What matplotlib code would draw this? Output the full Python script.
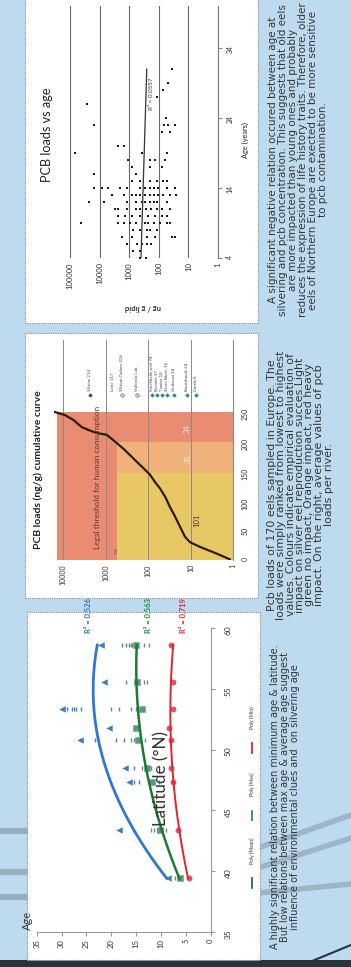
import numpy as np
import matplotlib
matplotlib.use('Agg')
import matplotlib.pyplot as plt
from matplotlib.patches import Rectangle
from matplotlib.lines import Line2D
from matplotlib.ticker import NullLocator
from matplotlib.font_manager import FontProperties

# ---------------- DATA ----------------
# Panel 1: PCB loads vs age (age in years, load in ng/g lipid)
pcb_age = ([4]*2 + [5]*2 + [6]*5 + [7]*6 + [8]*5 + [9]*11 + [10]*8 + [11]*10 +
           [12]*10 + [13]*12 + [14]*12 + [15]*6 + [16]*2 + [17]*3 + [18]*4 +
           [19]*3 + [20]*2 + [22]*2 + [23]*4 + [24] + [26] + [27] + [28] + [29] + [31])
pcb_load = [440, 270,
            720, 440,
            1200, 540, 380, 245, 180,
            1700, 830, 245, 135, 37, 28,
            720, 440, 245, 200, 115,
            44000, 2300, 1500, 930, 590, 295, 225, 145, 92, 54, 42,
            2300, 1400, 830, 440, 225, 135, 80, 54,
            3000, 2300, 1200, 590, 440, 270, 180, 115, 80, 42,
            23000, 7100, 1200, 590, 380, 295, 200, 145, 115, 54,
            3900, 1500, 830, 590, 440, 295, 200, 145, 105, 70, 42, 26,
            16000, 8300, 5100, 2000, 1200, 440, 295, 200, 145, 105, 54, 28,
            830, 440, 200, 115, 70, 54,
            15000, 590,
            830, 200, 80,
            1070, 200, 135, 62,
            68000, 380, 54,
            2300, 1500,
            80, 42,
            15000, 65, 48, 28,
            56, 27000, 115, 72, 48, 37]
trend_age = [4, 31]
trend_load = [400, 255]
age_ticks = [4, 14, 24, 34]
load_ticks = [1, 10, 100, 1000, 10000, 100000]

# Panel 2: cumulative curve (rank, load ng/g)
cum_rank = [1, 11, 22, 30, 39, 56, 73, 89, 106, 120, 131, 143, 154, 165, 176, 187,
            201, 210, 213, 217, 223, 235, 243, 249]
cum_load = [1.2, 2.5, 6.1, 10.5, 13.7, 18, 23.5, 31, 40, 53, 70, 91, 130, 188, 270,
            390, 665, 950, 1630, 2350, 3700, 5800, 9100, 17200]
zone_rank_edges = [0, 145.5, 198.5, 249]
threshold_load = 555
zone_counts = ['101', '35', '34']
river_names = ['Vilaine 214', 'Loire 117', 'Vilaine Cadave 226', 'Valencia Lab.',
               'Stockholm arch 74', 'Bremen 17', 'Tamise 18', 'Sèvre Niort. 16',
               'Gudenaa 24', 'Burrishoole 24', 'Corrib 8']
river_mean = [2350, 690, 425, 187, 83, 62, 48, 37, 24.5, 12.5, 7.6]
rank_ticks = [0, 50, 100, 150, 200, 250]
cum_load_ticks = [1, 10, 100, 1000, 10000]

# Panel 3: silvering age vs latitude
site_lat = [39.4, 43.4, 47.3, 48.5, 50.8, 51.8, 53.3, 55.6, 58.6]
age_max = [8.5, 18.5, 16.5, 17.2, 26.3, 20.5, 30.0, 21.5, 22.0]
age_mean = [6.2, 10.2, 11.8, 12.8, 14.6, 15.0, 13.8, 14.8, 15.0]
age_min = [4.3, 6.6, 7.6, 7.9, 8.0, 8.3, 7.6, 7.5, 8.0]
dash_max_lat = [53.3, 53.3, 53.3, 53.3, 53.3, 50.8, 50.8, 50.8, 43.4, 47.3, 47.3, 48.5, 55.6, 58.6, 58.6]
dash_max_age = [29, 28, 27.5, 27, 26, 23.3, 19, 17.5, 15.6, 15.5, 14.5, 15.5, 17, 17.8, 17]
dash_mean_lat = [53.3, 53.3, 53.3, 53.3, 50.8, 50.8, 50.8, 58.6, 58.6, 58.6, 58.6, 58.6,
                 55.6, 55.6, 43.4, 43.4, 43.4, 43.4, 43.4, 47.3, 47.3, 47.3, 48.5, 48.5, 39.4, 39.4]
dash_mean_age = [20, 18.5, 16, 15, 16, 15.5, 13.2, 16.5, 16, 15.8, 13.5, 12.5,
                 13.5, 12.8, 12, 11.5, 10.8, 9.5, 9, 12.5, 11.5, 10.5, 13.8, 12, 7.2, 6.6]
r2_labels = ['R² = 0,526', 'R² = 0,563', 'R² = 0,719']
age3_ticks = [35, 30, 25, 20, 15, 10, 5, 0]
lat_ticks = [35, 40, 45, 50, 55, 60]

text_top = ["A significant negative relation occured between age at",
            "silvering and pcb concentration. This suggests that old eels",
            "are more impacted than young ones and probably",
            "reduces the expression of life history traits. Therefore, older",
            "eels of Northern Europe are exected to be more sensitive",
            "to pcb contamination."]
text_mid = ["Pcb loads of 170 eels sampled in Europe. The",
            "loads were simply ranked from lowest to highest",
            "values. Colours indicate empirical evaluation of",
            "impact on silver eel reproduction succes.Light",
            "green no impact, Orange impact, red heavy",
            "impact. On the right, average values of pcb",
            "loads per river."]
text_bot = ["A highly significant relation between minimum age & latitude.",
            "But low relations between max age & average age suggest",
            "influence of environmental clues and  on silvering age"]

# ---------------- LAYOUT ----------------
W, H = 351, 967
fig = plt.figure(figsize=(W / 100, H / 100), dpi=100)
fig.patch.set_facecolor('#bddaee')
renderer = fig.canvas.get_renderer()
CF = 'Lato'
BF = 'DejaVu Sans'


def fx(x):
    return x / W


def fy(y):
    return 1 - y / H


def axbox(x0, y0, x1, y1):
    return [x0 / W, 1 - y1 / H, (x1 - x0) / W, (y1 - y0) / H]


def text_w(s, family, size=10, weight='normal'):
    fp = FontProperties(family=family, weight=weight, size=size)
    w, h, d = renderer.get_text_width_height_descent(s, fp, ismath=False)
    return w


def fit_size(s, family, target, weight='normal'):
    return 10 * target / text_w(s, family, 10, weight)


def ftext(x, y, s, size, family=CF, rot=90, **kw):
    fig.text(fx(x), fy(y), s, rotation=rot, fontsize=size, family=family,
             ha=kw.pop('ha', 'center'), va=kw.pop('va', 'center'),
             rotation_mode='anchor', **kw)


def fline(x0, y0, x1, y1, **kw):
    fig.add_artist(Line2D([fx(x0), fx(x1)], [fy(y0), fy(y1)], transform=fig.transFigure, **kw))


# background decorations
for (x0, y0, x1, y1) in [(0, 831, 27, 831), (0, 872, 27, 872), (0, 897, 27, 897)]:
    fline(x0, y0, x1, y1, color='#8ea3b4', lw=4.5, alpha=0.8, zorder=-3)
for (x0, y0, x1, y1) in [(258, 868, 351, 838), (258, 848, 351, 815), (258, 893, 351, 884)]:
    fline(x0, y0, x1, y1, color='#93a6b6', lw=4, alpha=0.7, zorder=-3)
fig.add_artist(Rectangle((0, 0), 1, 7 / H, transform=fig.transFigure,
                         facecolor='#27333d', edgecolor='none', zorder=-2))
fline(300, 966, 351, 945, color='#27333d', lw=1.5, zorder=-2)

# white panels
for (x0, y0, x1, y1) in [(25, -2, 258, 323), (25, 333, 258, 598), (27, 612, 260, 960)]:
    fig.add_artist(Rectangle((fx(x0), fy(y1)), (x1 - x0) / W, (y1 - y0) / H,
                             transform=fig.transFigure, facecolor='white',
                             edgecolor='#8c8c8c', lw=0.8, ls=(0, (1, 1)), zorder=-1))

# ---------------- PANEL 1 ----------------
ax1 = fig.add_axes(axbox(70, 6, 218, 258))
ax1.set_xscale('log')
ax1.set_xlim(1e5, 1)
ax1.set_ylim(4, 40)
ax1.set_facecolor('none')
ax1.scatter(pcb_load, pcb_age, marker='s', s=4, color='#1a1a1a', lw=0, zorder=3)
ax1.plot(trend_load, trend_age, color='#333333', lw=0.9, zorder=4)
ax1.text(200, 27.4, 'R² = 0,0557', rotation=90, fontsize=4.5, family=CF,
         ha='center', va='center', color='#333333', zorder=5)
ax1.set_xticks(load_ticks)
ax1.set_xticklabels([str(v) for v in load_ticks])
ax1.xaxis.set_minor_locator(NullLocator())
ax1.tick_params(axis='x', length=0, pad=3, labelsize=5.5, labelrotation=90, labelcolor='#333333')
ax1.yaxis.tick_right()
ax1.set_yticks(age_ticks)
ax1.tick_params(axis='y', length=3, pad=3, labelsize=5, labelrotation=90, color='#888888',
                labelcolor='#333333')
for lab in ax1.get_xticklabels() + ax1.get_yticklabels():
    lab.set_family(CF)
ax1.grid(axis='x', color='#6a6a6a', lw=0.8)
for s in ['top', 'left', 'bottom']:
    ax1.spines[s].set_visible(False)
ax1.spines['right'].set_color('#7a7a7a')
ftext(47, 135, 'PCB loads vs age', fit_size('PCB loads vs age', CF, 94), color='#222222')
ftext(143, 307, 'ng / g lipid', fit_size('ng / g lipid', CF, 36, 'bold'), rot=180,
      weight='bold', color='#333333')
ftext(245, 140, 'Age (years)', fit_size('Age (years)', CF, 36), color='#222222')

# ---------------- PANEL 2 ----------------
ax2 = fig.add_axes(axbox(53.5, 340, 233.3, 560))
ax2.set_xscale('log')
ax2.set_xlim(17000, 1)
ax2.set_ylim(0, 369)
ax2.set_facecolor('none')
r0, r1, r2, r3 = zone_rank_edges
hi = 14300
ax2.fill_betweenx([r2, r3], 1, hi, color='#ea8c72', lw=0, zorder=1)
ax2.fill_betweenx([r0, r2], threshold_load, hi, color='#ea8c72', lw=0, zorder=1)
ax2.fill_betweenx([r1, r2], 1, threshold_load, color='#f0b27a', lw=0, zorder=1)
ax2.fill_betweenx([r0, r1], 1, threshold_load, color='#e8c865', lw=0, zorder=1)
ax2.set_axisbelow('line')
ax2.grid(axis='x', color='#8a8a8a', lw=0.7)
ax2.plot(cum_load, cum_rank, color='#2b1c12', lw=1.6, zorder=4)
ax2.text(7.3, 67, zone_counts[0], rotation=90, fontsize=5.5, family=CF, color='#4a3a1a',
         ha='center', va='center', zorder=5)
ax2.text(11.7, 170, zone_counts[1], rotation=90, fontsize=5.5, family=CF, color='#fff3e0',
         ha='center', va='center', zorder=5)
ax2.text(12.3, 220, zone_counts[2], rotation=90, fontsize=5.5, family=CF, color='#fff3e0',
         ha='center', va='center', zorder=5)
ax2.text(1600, 138, 'Legal threshold for human consumption', rotation=90,
         fontsize=fit_size('Legal threshold for human consumption', CF, 143), family=CF,
         color='#5a3a30', ha='center', va='center', zorder=5)
ax2.text(threshold_load, 16, '500', rotation=90, fontsize=3, family=CF, color='#555555',
         ha='center', va='center', zorder=5)
for i, (nm, v) in enumerate(zip(river_names, river_mean)):
    if i == 0:
        ax2.scatter([v], [277], marker='D', s=5, color='#444444', lw=0, zorder=5)
    elif i in (2, 3):
        ax2.scatter([v], [277], marker='o', s=7, facecolor='#c8c8c8', edgecolor='#777777',
                    lw=0.4, zorder=5)
    elif i >= 4:
        ax2.scatter([v], [277], marker='D', s=5, color='#1b8c8c', lw=0, zorder=5)
    ax2.text(v, 283, nm, rotation=90, fontsize=3.2, family=CF, color='#444444',
             ha='center', va='bottom', zorder=5)
ax2.set_xticks(cum_load_ticks)
ax2.set_xticklabels([str(v) for v in cum_load_ticks])
ax2.xaxis.set_minor_locator(NullLocator())
ax2.tick_params(axis='x', length=0, pad=3, labelsize=5, labelrotation=90, labelcolor='#333333')
ax2.yaxis.tick_right()
ax2.set_yticks(rank_ticks)
ax2.tick_params(axis='y', length=0, pad=6, labelsize=5, labelrotation=90, labelcolor='#333333')
for lab in ax2.get_xticklabels() + ax2.get_yticklabels():
    lab.set_family(CF)
for s in ['top', 'left', 'bottom']:
    ax2.spines[s].set_visible(False)
ax2.spines['right'].set_color('#8a8a8a')
ftext(38, 470, 'PCB loads (ng/g) cumulative curve',
      fit_size('PCB loads (ng/g) cumulative curve', CF, 158, 'bold'), weight='bold',
      color='#222222')

# ---------------- PANEL 3 ----------------
ax3 = fig.add_axes(axbox(36.7, 628, 210.7, 932))
ax3.set_xlim(35, 0)
ax3.set_ylim(35, 60)
ax3.set_facecolor('none')
ax3.scatter(dash_max_age, dash_max_lat, marker='|', s=10, color='#4a7fc0', lw=1.0, zorder=3)
ax3.scatter(dash_mean_age, dash_mean_lat, marker='|', s=10, color='#5f8f80', lw=1.0, zorder=3)
ax3.scatter(age_max, site_lat, marker='<', s=22, color='#3f7cc6', lw=0, zorder=4)
ax3.scatter(age_mean, site_lat, marker='s', s=18, color='#4f9a80', edgecolor='#7a9a8a', lw=0.4, zorder=4)
ax3.scatter(age_min, site_lat, marker='o', s=18, color='#e4506c', lw=0, zorder=4)
lat_fit = np.linspace(min(site_lat), max(site_lat), 100)
for series, col, lw in [(age_max, '#2f78d2', 2.0), (age_mean, '#1d7a2e', 1.8), (age_min, '#e8202e', 1.4)]:
    c = np.polyfit(site_lat, series, 2)
    ax3.plot(np.polyval(c, lat_fit), lat_fit, color=col, lw=lw, zorder=5)
for lab, age_pos, col in zip(r2_labels, [24.7, 12.6, 5.6], ['#2f6fc0', '#1d8a3a', '#e82030']):
    ax3.text(age_pos, 61.0, lab, rotation=90, fontsize=5.5, family=CF, weight='bold', color=col,
             ha='center', va='center', clip_on=False, zorder=6)
ax3.set_xticks(age3_ticks)
ax3.set_yticks(lat_ticks)
ax3.yaxis.tick_right()
ax3.tick_params(axis='x', length=3, pad=2, labelsize=5.5, labelrotation=90, color='#999999',
                labelcolor='#333333')
ax3.tick_params(axis='y', length=3, pad=7, labelsize=6, labelrotation=90, color='#999999',
                labelcolor='#333333')
for lab in ax3.get_xticklabels() + ax3.get_yticklabels():
    lab.set_family(CF)
for s in ['top', 'left']:
    ax3.spines[s].set_visible(False)
ax3.spines['bottom'].set_color('#999999')
ax3.spines['right'].set_color('#999999')
ftext(161, 778, 'Latitude (°N)', fit_size('Latitude (°N)', CF, 95), color='#333333', zorder=7)
ftext(27, 920, 'Age', fit_size('Age', CF, 19), color='#333333')
# legend
for (ya, yb, ts, tc, col) in [(888, 878, 'Poly (Mean)', 851, '#1d7a2e'),
                              (820, 811, 'Poly (Max)', 784, '#2f78d2'),
                              (753, 743, 'Poly (Min)', 718, '#e8202e')]:
    fline(252, ya, 252, yb, color=col, lw=1.3)
    ftext(252, tc, ts, 3.6, color='#333333')


# ---------------- BODY TEXT ----------------
def body(lines, xs, yc, target):
    longest = max(lines, key=lambda s: text_w(s, BF))
    size = fit_size(longest, BF, target)
    for ln, x in zip(lines, xs):
        ftext(x, yc, ln, size, family=BF, color='#363636')


body(text_top, [273, 283, 293, 303, 313, 323], 160, 312)
body(text_mid, [272, 281.5, 291, 300, 309.5, 319, 328.5], 485, 268)
body(text_bot, [275, 285, 295], 797, 303)

fig.savefig('out.png', dpi=100, facecolor=fig.get_facecolor())
